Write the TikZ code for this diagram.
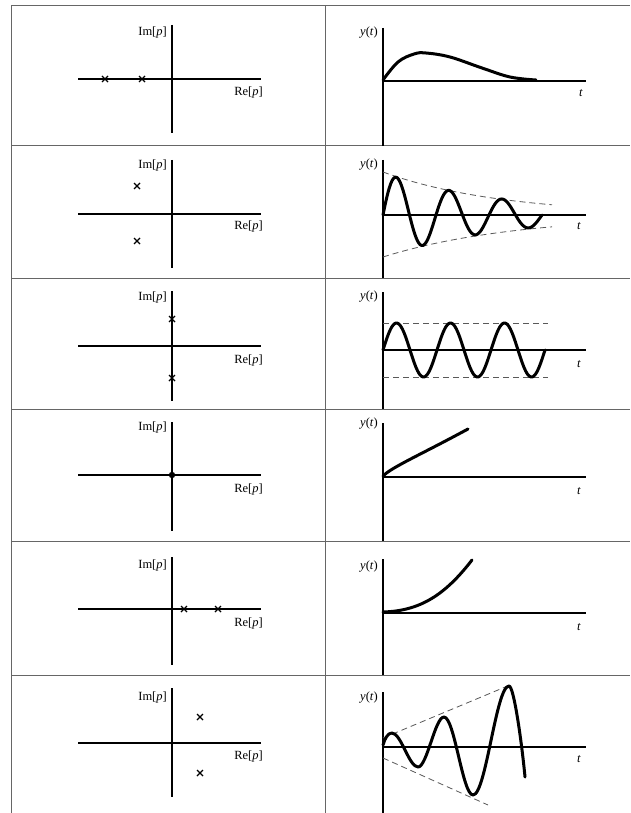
\documentclass[tikz,border=0pt]{standalone}
\usepackage{fontspec}
\setmainfont{Liberation Serif}
\begin{document}
\begin{tikzpicture}[x=1pt,y=-1pt,
  tbl/.style={draw=black!60, line width=1pt},
  ax/.style={draw=black, line width=1.4pt},
  crv/.style={draw=black, line width=3pt, line cap=round, line join=round},
  env/.style={draw=black!65, line width=0.8pt, dash pattern=on 6pt off 4pt},
  lbl/.style={font=\fontsize{12.5}{14}\selectfont, inner sep=0pt},
  polemark/.pic={\draw[line width=1.3pt] (-3,-3) -- (3,3) (-3,3) -- (3,-3);}
]
\useasboundingbox (0,0) rectangle (630,813);
\fill[white] (0,0) rectangle (630,813);

% ---------- table ----------
\coordinate (tl) at (11,6);
\coordinate (tr) at (630,6);
\coordinate (bl) at (11,813);
\coordinate (mt) at (325,6);
\coordinate (mb) at (325,813);
\draw[tbl] (bl) -- (tl) -- (tr);
\draw[tbl] (mt) -- (mb);
\foreach \yy in {146,278,409,541,675}{\draw[tbl] (11,\yy) -- (630,\yy);}

% ---------- row 1 ----------
\coordinate (r1h0) at (78,79);  \coordinate (r1h1) at (261,79);
\coordinate (r1v0) at (172,25); \coordinate (r1v1) at (172,133);
\draw[ax] (r1h0) -- (r1h1);
\draw[ax] (r1v0) -- (r1v1);
\node[lbl, anchor=east] (im1) at (167,32) {Im[\textit{p}]};
\node[lbl, anchor=east] (re1) at (263,92) {Re[\textit{p}]};
\pic at (105,79) {polemark};
\pic at (142,79) {polemark};
\coordinate (y1a) at (383,28); \coordinate (y1b) at (383,146);
\coordinate (t1a) at (383,81); \coordinate (t1b) at (586,81);
\draw[ax] (y1a) -- (y1b);
\draw[ax] (t1a) -- (t1b);
\node[lbl, anchor=east] (yl1) at (378,33) {\textit{y}(\textit{t})};
\node[lbl] (tl1) at (581,93) {\textit{t}};
\draw[crv] plot[smooth, tension=0.6] coordinates {(383,80) (398,62) (414,54) (426,53) (450,57) (482,68) (510,77) (536,80)};

% ---------- row 2 ----------
\coordinate (r2h0) at (78,214);  \coordinate (r2h1) at (261,214);
\coordinate (r2v0) at (172,160); \coordinate (r2v1) at (172,268);
\draw[ax] (r2h0) -- (r2h1);
\draw[ax] (r2v0) -- (r2v1);
\node[lbl, anchor=east] (im2) at (167,165) {Im[\textit{p}]};
\node[lbl, anchor=east] (re2) at (263,226) {Re[\textit{p}]};
\pic at (137,186) {polemark};
\pic at (137,241) {polemark};
\coordinate (y2a) at (383,160); \coordinate (y2b) at (383,278);
\coordinate (t2a) at (383,215); \coordinate (t2b) at (586,215);
\draw[ax] (y2a) -- (y2b);
\draw[ax] (t2a) -- (t2b);
\node[lbl, anchor=east] (yl2) at (378,165) {\textit{y}(\textit{t})};
\node[lbl] (tl2) at (579,226) {\textit{t}};
\draw[env] plot[domain=0:169, samples=40] ({383+\x},{215-43*exp(-0.0085*\x)});
\draw[env] plot[domain=0:169, samples=40] ({383+\x},{215+42*exp(-0.0075*\x)});
\draw[crv] plot[domain=0:159, samples=160] ({383+\x},{215-42*exp(-0.0081*\x)*sin(6.7925*\x)});

% ---------- row 3 ----------
\coordinate (r3h0) at (78,346);  \coordinate (r3h1) at (261,346);
\coordinate (r3v0) at (172,291); \coordinate (r3v1) at (172,401);
\draw[ax] (r3h0) -- (r3h1);
\draw[ax] (r3v0) -- (r3v1);
\node[lbl, anchor=east] (im3) at (167,297) {Im[\textit{p}]};
\node[lbl, anchor=east] (re3) at (263,360) {Re[\textit{p}]};
\pic at (172,319) {polemark};
\pic at (172,378) {polemark};
\coordinate (y3a) at (383,292); \coordinate (y3b) at (383,409);
\coordinate (t3a) at (383,350); \coordinate (t3b) at (586,350);
\draw[ax] (y3a) -- (y3b);
\draw[ax] (t3a) -- (t3b);
\node[lbl, anchor=east] (yl3) at (378,297) {\textit{y}(\textit{t})};
\node[lbl] (tl3) at (579,364) {\textit{t}};
\coordinate (e3a) at (383,323); \coordinate (e3b) at (548,323);
\coordinate (e3c) at (383,377); \coordinate (e3d) at (548,377);
\draw[env] (e3a) -- (e3b);
\draw[env] (e3c) -- (e3d);
\draw[crv] plot[domain=0:162, samples=160] ({383+\x},{350-27*sin(6.6667*\x)});

% ---------- row 4 ----------
\coordinate (r4h0) at (78,475);  \coordinate (r4h1) at (261,475);
\coordinate (r4v0) at (172,422); \coordinate (r4v1) at (172,531);
\draw[ax] (r4h0) -- (r4h1);
\draw[ax] (r4v0) -- (r4v1);
\node[lbl, anchor=east] (im4) at (167,427) {Im[\textit{p}]};
\node[lbl, anchor=east] (re4) at (263,489) {Re[\textit{p}]};
\fill (172,475) circle (3.2);
\coordinate (y4a) at (383,423); \coordinate (y4b) at (383,541);
\coordinate (t4a) at (383,477); \coordinate (t4b) at (586,477);
\draw[ax] (y4a) -- (y4b);
\draw[ax] (t4a) -- (t4b);
\node[lbl, anchor=east] (yl4) at (378,424) {\textit{y}(\textit{t})};
\node[lbl] (tl4) at (579,491) {\textit{t}};
\draw[crv] (383,476) .. controls (392,467) and (420,455) .. (468,429);

% ---------- row 5 ----------
\coordinate (r5h0) at (78,609);  \coordinate (r5h1) at (261,609);
\coordinate (r5v0) at (172,557); \coordinate (r5v1) at (172,665);
\draw[ax] (r5h0) -- (r5h1);
\draw[ax] (r5v0) -- (r5v1);
\node[lbl, anchor=east] (im5) at (167,565) {Im[\textit{p}]};
\node[lbl, anchor=east] (re5) at (263,623) {Re[\textit{p}]};
\pic at (184,609) {polemark};
\pic at (218,609) {polemark};
\coordinate (y5a) at (383,559); \coordinate (y5b) at (383,675);
\coordinate (t5a) at (383,613); \coordinate (t5b) at (586,613);
\draw[ax] (y5a) -- (y5b);
\draw[ax] (t5a) -- (t5b);
\node[lbl, anchor=east] (yl5) at (378,567) {\textit{y}(\textit{t})};
\node[lbl] (tl5) at (579,627) {\textit{t}};
\draw[crv] (383,612) .. controls (420,611) and (445,595) .. (472,560);

% ---------- row 6 ----------
\coordinate (r6h0) at (78,743);  \coordinate (r6h1) at (261,743);
\coordinate (r6v0) at (172,688); \coordinate (r6v1) at (172,797);
\draw[ax] (r6h0) -- (r6h1);
\draw[ax] (r6v0) -- (r6v1);
\node[lbl, anchor=east] (im6) at (167,697) {Im[\textit{p}]};
\node[lbl, anchor=east] (re6) at (263,756) {Re[\textit{p}]};
\pic at (200,717) {polemark};
\pic at (200,773) {polemark};
\coordinate (y6a) at (383,692); \coordinate (y6b) at (383,813);
\coordinate (t6a) at (383,747); \coordinate (t6b) at (586,747);
\draw[ax] (y6a) -- (y6b);
\draw[ax] (t6a) -- (t6b);
\node[lbl, anchor=east] (yl6) at (378,698) {\textit{y}(\textit{t})};
\node[lbl] (tl6) at (579,759) {\textit{t}};
\coordinate (e6a) at (383,738); \coordinate (e6b) at (510,685);
\coordinate (e6c) at (383,758); \coordinate (e6d) at (488,805);
\draw[env] (e6a) -- (e6b);
\draw[env] (e6c) -- (e6d);
\draw[crv] (383,745) .. controls (385,738) and (388,733) .. (392,733)
  .. controls (401,733) and (409,767) .. (418,767)
  .. controls (427,767) and (435,717) .. (444,717)
  .. controls (454.5,717) and (462.5,795) .. (473,795)
  .. controls (486,795) and (496,686) .. (509,686)
  .. controls (514,686) and (522,745) .. (525,777);
\end{tikzpicture}
\end{document}
